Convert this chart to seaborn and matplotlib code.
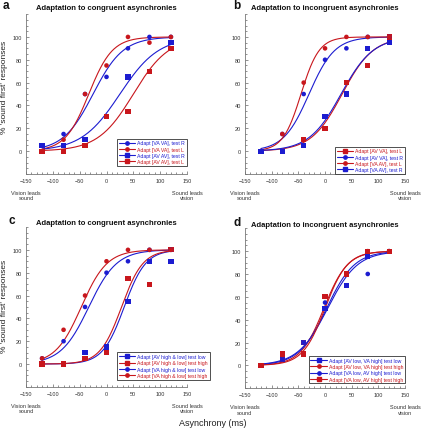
import numpy as np
import pandas as pd
import seaborn as sns
import matplotlib.pyplot as plt
from matplotlib.lines import Line2D
from matplotlib.ticker import MultipleLocator

sns.set_style("ticks")
plt.rcParams['font.family'] = ['Liberation Sans', 'DejaVu Sans']

BLUE = "#1c1cd0"
RED = "#c8161c"

# asynchrony levels (ms) used in every panel
asynchrony = [-120, -80, -40, 0, 40, 80, 120]

# panel a
a_title = "Adaptation to congruent asynchronies"
a_labels = ["Adapt [VA VA], test R", "Adapt [VA VA], test L",
            "Adapt [AV AV], test R", "Adapt [AV AV], test L"]
a_colors = [BLUE, RED, BLUE, RED]
a_markers = ["o", "o", "s", "s"]
a_resp = [[5, 15, 50, 65, 90, 100, 100],
          [0, 10, 50, 75, 100, 95, 100],
          [5, 5, 10, 30, 65, 70, 95],
          [0, 0, 5, 30, 35, 70, 90]]
a_pse = [-25, -33, 25, 50]
a_width = [28, 22, 36, 33]

# panel b
b_title = "Adaptation to incongruent asynchronies"
b_labels = ["Adapt [AV VA], test L", "Adapt [AV VA], test R",
            "Adapt [VA AV], test L", "Adapt [VA AV], test R"]
b_colors = [RED, BLUE, RED, BLUE]
b_markers = ["s", "o", "o", "s"]
b_resp = [[0, 0, 10, 20, 60, 75, 100],
          [0, 15, 50, 80, 90, 100, 100],
          [0, 15, 60, 90, 100, 100, 100],
          [0, 0, 5, 30, 50, 90, 95]]
b_pse = [32, -30, -45, 30]
b_width = [29, 24, 17, 30]

# panel c
c_title = "Adaptation to congruent asynchronies"
c_labels = ["Adapt [AV high & low] test low", "Adapt [AV high & low] test high",
            "Adapt [VA high & low] test low", "Adapt [VA high & low] test high"]
c_colors = [BLUE, RED, BLUE, RED]
c_markers = ["s", "s", "o", "o"]
c_resp = [[0, 0, 10, 15, 55, 90, 90],
          [0, 0, 5, 10, 75, 70, 100],
          [5, 20, 50, 80, 90, 100, 100],
          [5, 30, 60, 90, 100, 100, 100]]
c_pse = [33, 28, -33, -47]
c_width = [20, 20, 26, 24]

# panel d
d_title = "Adaptation to incongruent asynchronies"
d_labels = ["Adapt [AV low, VA high] test low", "Adapt [AV low, VA high] test high",
            "Adapt [VA low, AV high] test low", "Adapt [VA low, AV high] test high"]
d_colors = [BLUE, RED, BLUE, RED]
d_markers = ["s", "o", "o", "s"]
d_resp = [[0, 5, 20, 50, 70, 95, 100],
          [0, 5, 20, 60, 80, 100, 100],
          [0, 5, 20, 55, 70, 80, 100],
          [0, 10, 10, 60, 80, 100, 100]]
d_pse = [5, -2, 3, 0]
d_width = [28, 22, 26, 21]

# letter, axes rect, title/letter height, letter x, legend anchor
panels = [
    ("a", [0.061, 0.594, 0.378, 0.371], 1.022, -0.145, (1.0, 0.05),
     a_title, a_labels, a_colors, a_markers, a_resp, a_pse, a_width),
    ("b", [0.575, 0.594, 0.376, 0.371], 1.022, -0.075, (1.0, 0.0),
     b_title, b_labels, b_colors, b_markers, b_resp, b_pse, b_width),
    ("c", [0.061, 0.100, 0.378, 0.371], 1.004, -0.11, (1.14, 0.044),
     c_title, c_labels, c_colors, c_markers, c_resp, c_pse, c_width),
    ("d", [0.575, 0.097, 0.376, 0.371], 1.004, -0.07, (1.0, 0.03),
     d_title, d_labels, d_colors, d_markers, d_resp, d_pse, d_width),
]

fig = plt.figure(figsize=(4.26, 4.31), dpi=100)
xfit = np.linspace(-120, 120, 200)

for (letter, rect, ytxt, xlet, anchor,
     title, labels, colors, markers, resp, pse, width) in panels:
    ax = fig.add_axes(rect)
    handles = []
    for lab, col, mk, r, mu, w in zip(labels, colors, markers, resp, pse, width):
        curve = pd.DataFrame({"x": xfit, "y": 100 / (1 + np.exp(-(xfit - mu) / w))})
        sns.lineplot(data=curve, x="x", y="y", color=col, lw=0.8, ax=ax)
        pts = pd.DataFrame({"x": asynchrony, "y": r})
        sns.scatterplot(data=pts, x="x", y="y", color=col, marker=mk,
                        s=14 if mk == "s" else 11, edgecolor="none", ax=ax, zorder=3)
        handles.append(Line2D([0], [0], color=col, marker=mk, ms=2.4, lw=0.8, label=lab))

    ax.set_xlim(-150, 150)
    ax.set_ylim(-20, 120)
    ax.set_xticks(range(-150, 151, 50))
    ax.set_yticks(range(0, 101, 20))
    ax.xaxis.set_minor_locator(MultipleLocator(10))
    ax.yaxis.set_minor_locator(MultipleLocator(5))
    ax.tick_params(which="both", direction="in", width=0.5, colors="#666",
                   labelcolor="#333", labelsize=4, pad=3)
    ax.tick_params(which="major", length=2.5)
    ax.tick_params(which="minor", length=1.5)
    ax.set_xlabel("")
    ax.set_ylabel("")
    for side in ["top", "right"]:
        ax.spines[side].set_visible(False)
    for side in ["left", "bottom"]:
        ax.spines[side].set_color("#777")
        ax.spines[side].set_linewidth(0.6)

    ax.text(0.5, ytxt, title, transform=ax.transAxes, ha="center", va="bottom",
            fontsize=5.5, fontweight="bold", color="#111")
    ax.text(xlet, ytxt, letter, transform=ax.transAxes, ha="left", va="bottom",
            fontsize=8.5, fontweight="bold", color="#111")
    ax.text(-150, -34, "Vision leads\nsound", ha="center", va="top", fontsize=4,
            color="#333", linespacing=1.1)
    ax.text(150, -34, "Sound leads\nvision", ha="center", va="top", fontsize=4,
            color="#333", linespacing=1.1)

    leg = ax.legend(handles=handles, loc="lower right", bbox_to_anchor=anchor,
                    fontsize=3.7, labelcolor="linecolor", frameon=True, fancybox=False,
                    edgecolor="#333", framealpha=1, borderpad=0.35, labelspacing=0.25,
                    handlelength=3.2, handletextpad=0.4, borderaxespad=0)
    leg.get_frame().set_linewidth(0.6)

fig.text(0.011, 0.796, "% 'sound first' responses", rotation=90, ha="center", va="center",
         fontsize=6, color="#222")
fig.text(0.011, 0.288, "% 'sound first' responses", rotation=90, ha="center", va="center",
         fontsize=6, color="#222")
fig.text(0.5, 0.006, "Asynchrony (ms)", ha="center", va="bottom", fontsize=6.5, color="#222")

fig.savefig("out.png", dpi=100)
